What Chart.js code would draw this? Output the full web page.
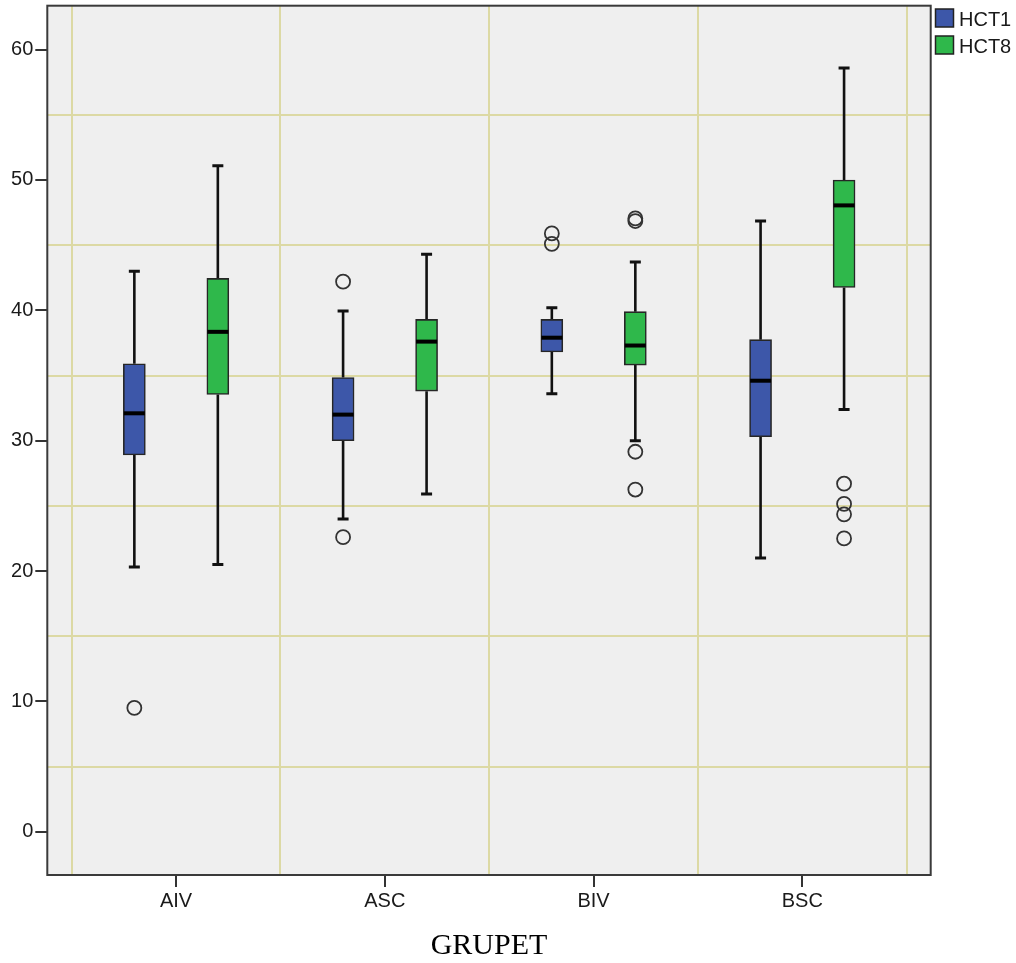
<!DOCTYPE html>
<html>
<head>
<meta charset="utf-8">
<script src="https://cdn.jsdelivr.net/npm/chart.js@4/dist/chart.umd.min.js"></script>
<style>
  html, body { margin: 0; padding: 0; background: #ffffff; }
  #wrap { width: 1016px; height: 963px; position: relative; }
</style>
</head>
<body>
<div id="wrap"><canvas id="chart"></canvas></div>
<script>
// Groups on the horizontal axis
const categories = ['AIV', 'ASC', 'BIV', 'BSC'];
const seriesNames = ['HCT1', 'HCT8'];

// HCT1 five-number summaries per group
const hct1Min    = [20.3, 24.0, 33.6, 21.0];
const hct1Q1     = [28.9, 30.0, 36.8, 30.3];
const hct1Median = [32.1, 32.0, 37.9, 34.6];
const hct1Q3     = [35.9, 34.85, 39.3, 37.75];
const hct1Max    = [43.0, 39.95, 40.2, 46.85];
const hct1Outliers = [[9.5], [22.6, 42.2], [45.1, 45.9], []];

// HCT8 five-number summaries per group
const hct8Min    = [20.5, 25.9, 30.0, 32.4];
const hct8Q1     = [33.55, 33.8, 35.8, 41.75];
const hct8Median = [38.35, 37.6, 37.3, 48.05];
const hct8Q3     = [42.45, 39.3, 39.9, 50.0];
const hct8Max    = [51.1, 44.3, 43.7, 58.6];
const hct8Outliers = [[], [], [26.25, 29.15, 46.85, 47.05], [22.5, 24.35, 25.15, 26.7]];

// Value axis labels
const yTickLabels = [0, 10, 20, 30, 40, 50, 60];

const series = [
  { name: seriesNames[0], min: hct1Min, q1: hct1Q1, med: hct1Median, q3: hct1Q3, max: hct1Max, out: hct1Outliers,
    color: '#3d57a9', shift: -0.2 },
  { name: seriesNames[1], min: hct8Min, q1: hct8Q1, med: hct8Median, q3: hct8Q3, max: hct8Max, out: hct8Outliers,
    color: '#2fb84b', shift: 0.2 }
];

const boxDatasets = series.map(s => ({
  type: 'bar',
  label: s.name,
  data: categories.map((c, i) => ({ x: i + s.shift, y: [s.q1[i], s.q3[i]] })),
  backgroundColor: s.color,
  borderColor: '#262626',
  borderWidth: 1.6,
  borderSkipped: false,
  barThickness: 22,
  grouped: false,
  order: 2
}));

const outlierDatasets = series.map(s => ({
  type: 'scatter',
  label: s.name + ' outliers',
  data: categories.flatMap((c, i) => s.out[i].map(v => ({ x: i + s.shift, y: v }))),
  pointStyle: 'circle',
  pointRadius: 7,
  pointBorderWidth: 1.8,
  pointBorderColor: '#333333',
  pointBackgroundColor: 'rgba(0,0,0,0)',
  showLine: false,
  order: 1
}));

// Plot background, whiskers (behind boxes), medians and frame
const boxPlotParts = {
  id: 'boxPlotParts',
  beforeDraw(chart) {
    const { ctx, chartArea: a } = chart;
    ctx.save();
    ctx.fillStyle = '#efefef';
    ctx.fillRect(a.left, a.top, a.right - a.left, a.bottom - a.top);
    ctx.restore();
  },
  beforeDatasetsDraw(chart) {
    const { ctx, scales: { x, y } } = chart;
    ctx.save();
    ctx.strokeStyle = '#111111';
    series.forEach(s => {
      categories.forEach((c, i) => {
        const px = x.getPixelForValue(i + s.shift);
        const yMin = y.getPixelForValue(s.min[i]);
        const yMax = y.getPixelForValue(s.max[i]);
        const yQ1 = y.getPixelForValue(s.q1[i]);
        const yQ3 = y.getPixelForValue(s.q3[i]);
        ctx.lineWidth = 2.6;
        ctx.beginPath();
        ctx.moveTo(px, yQ3); ctx.lineTo(px, yMax);
        ctx.moveTo(px, yQ1); ctx.lineTo(px, yMin);
        ctx.stroke();
        ctx.lineWidth = 3;
        ctx.beginPath();
        ctx.moveTo(px - 5.5, yMax); ctx.lineTo(px + 5.5, yMax);
        ctx.moveTo(px - 5.5, yMin); ctx.lineTo(px + 5.5, yMin);
        ctx.stroke();
      });
    });
    ctx.restore();
  },
  afterDatasetsDraw(chart) {
    const { ctx, scales: { x, y }, chartArea: a } = chart;
    ctx.save();
    ctx.strokeStyle = '#000000';
    ctx.lineWidth = 4;
    series.forEach(s => {
      categories.forEach((c, i) => {
        const px = x.getPixelForValue(i + s.shift);
        const py = y.getPixelForValue(s.med[i]);
        ctx.beginPath();
        ctx.moveTo(px - 10.5, py); ctx.lineTo(px + 10.5, py);
        ctx.stroke();
      });
    });
    ctx.strokeStyle = '#3a3a3a';
    ctx.lineWidth = 2;
    ctx.strokeRect(a.left, a.top, a.right - a.left, a.bottom - a.top);
    ctx.restore();
  },
  afterDraw(chart) {
    // Legend at the top right, outside the frame
    const { ctx } = chart;
    ctx.save();
    ctx.font = '20px "Liberation Sans", Arial, sans-serif';
    ctx.textBaseline = 'middle';
    ctx.textAlign = 'left';
    series.forEach((s, k) => {
      const top = 9 + k * 27;
      ctx.fillStyle = s.color;
      ctx.fillRect(935.5, top, 18, 18);
      ctx.strokeStyle = '#222222';
      ctx.lineWidth = 1.5;
      ctx.strokeRect(935.5, top, 18, 18);
      ctx.fillStyle = '#1a1a1a';
      ctx.fillText(s.name, 959, top + 11);
    });
    ctx.restore();
  }
};

const gridColor = '#dcd9a4';
const clear = 'rgba(0,0,0,0)';
const axisFont = { family: '"Liberation Sans", Arial, sans-serif', size: 20 };
const tickValue = ctx => (ctx && ctx.tick) ? ctx.tick.value : null;
const isCategoryTick = ctx => { const v = tickValue(ctx); return v !== null && Number.isInteger(v); };
const isLabelledY = ctx => { const v = tickValue(ctx); return v !== null && yTickLabels.includes(v); };

new Chart(document.getElementById('chart'), {
  data: { datasets: [...boxDatasets, ...outlierDatasets] },
  options: {
    responsive: true,
    maintainAspectRatio: false,
    animation: false,
    events: [],
    layout: { autoPadding: false, padding: { top: 5.7, right: 85.3, left: 0, bottom: 0 } },
    plugins: { legend: { display: false }, tooltip: { enabled: false } },
    scales: {
      x: {
        type: 'linear',
        offset: false,
        min: -0.617,
        max: 3.615,
        border: { display: false },
        afterBuildTicks(scale) {
          const t = [];
          for (let v = -0.5; v <= categories.length - 0.5; v += 0.5) t.push({ value: v });
          scale.ticks = t;
        },
        afterFit(scale) {
          scale.height = 88;
          scale.paddingLeft = 0;
          scale.paddingRight = 0;
        },
        ticks: {
          autoSkip: false,
          maxRotation: 0,
          padding: 2,
          color: '#1a1a1a',
          font: axisFont,
          callback: v => Number.isInteger(v) ? categories[v] : ''
        },
        grid: {
          offset: false,
          lineWidth: 2,
          tickLength: 12,
          tickWidth: 2,
          color: ctx => { const v = tickValue(ctx); return (v === null || Number.isInteger(v)) ? clear : gridColor; },
          tickColor: ctx => isCategoryTick(ctx) ? '#333333' : clear
        },
        title: {
          display: true,
          text: 'GRUPET',
          color: '#000000',
          font: { family: '"Liberation Serif", "Times New Roman", serif', size: 30, lineHeight: 1 },
          padding: { top: 0, bottom: 2 }
        }
      },
      y: {
        type: 'linear',
        min: -3.32,
        max: 63.37,
        border: { display: false },
        afterBuildTicks(scale) {
          const t = [];
          for (let v = 0; v <= 60; v += 5) t.push({ value: v });
          scale.ticks = t;
        },
        afterFit(scale) {
          scale.width = 47.3;
          scale.paddingTop = 0;
          scale.paddingBottom = 0;
        },
        ticks: {
          autoSkip: false,
          padding: 2,
          color: '#1a1a1a',
          font: axisFont,
          callback: v => yTickLabels.includes(v) ? String(v) : ''
        },
        grid: {
          lineWidth: 2,
          tickLength: 12,
          tickWidth: 2,
          color: ctx => { const v = tickValue(ctx); return (v === null || yTickLabels.includes(v)) ? clear : gridColor; },
          tickColor: ctx => isLabelledY(ctx) ? '#333333' : clear
        }
      }
    }
  },
  plugins: [boxPlotParts]
});
</script>
</body>
</html>
